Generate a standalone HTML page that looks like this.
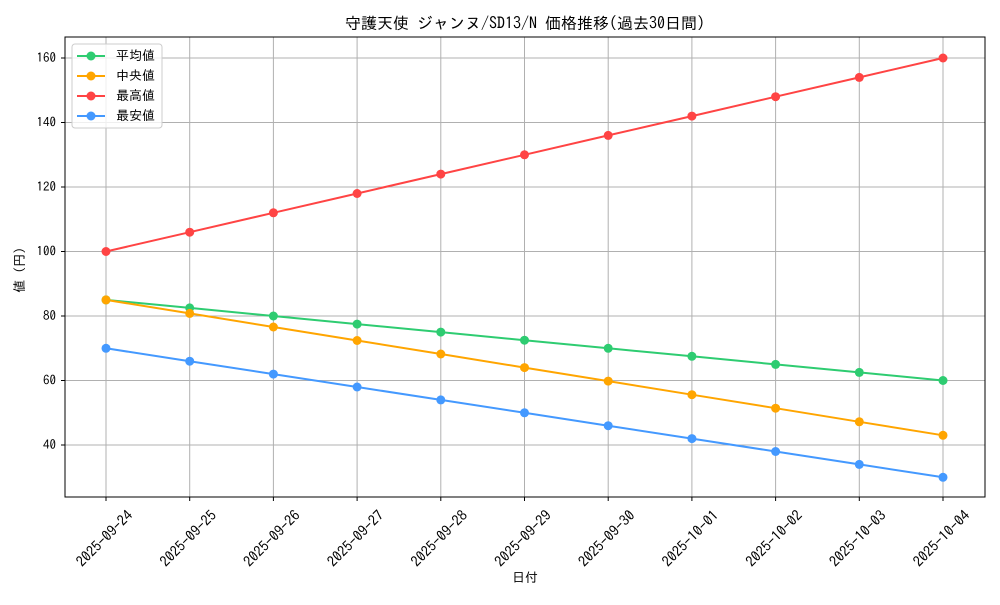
<!DOCTYPE html>
<html><head><meta charset="utf-8"><style>
body{margin:0;background:#fff}
svg text{font-family:"IPAGothic","Liberation Sans","Noto Sans CJK JP",sans-serif;fill:#000}
</style></head><body>
<svg width="1000" height="600" xmlns="http://www.w3.org/2000/svg">
<rect width="1000" height="600" fill="#fff"/>
<g stroke="#b0b0b0" stroke-width="1">
<line x1="106" y1="37" x2="106" y2="497"/><line x1="189.7" y1="37" x2="189.7" y2="497"/><line x1="273.4" y1="37" x2="273.4" y2="497"/><line x1="357.1" y1="37" x2="357.1" y2="497"/><line x1="440.8" y1="37" x2="440.8" y2="497"/><line x1="524.5" y1="37" x2="524.5" y2="497"/><line x1="608.2" y1="37" x2="608.2" y2="497"/><line x1="691.9" y1="37" x2="691.9" y2="497"/><line x1="775.6" y1="37" x2="775.6" y2="497"/><line x1="859.3" y1="37" x2="859.3" y2="497"/><line x1="943" y1="37" x2="943" y2="497"/>
<line x1="65" y1="445" x2="985" y2="445"/><line x1="65" y1="380.5" x2="985" y2="380.5"/><line x1="65" y1="316" x2="985" y2="316"/><line x1="65" y1="251.5" x2="985" y2="251.5"/><line x1="65" y1="187" x2="985" y2="187"/><line x1="65" y1="122.5" x2="985" y2="122.5"/><line x1="65" y1="58" x2="985" y2="58"/>
</g>
<rect x="65" y="37" width="920" height="460" fill="none" stroke="#000" stroke-width="1"/>
<g font-size="13" text-anchor="end">
<text x="56" y="449">40</text><text x="56" y="384.5">60</text><text x="56" y="320">80</text><text x="56" y="255.5">100</text><text x="56" y="191">120</text><text x="56" y="126.5">140</text><text x="56" y="62">160</text>
</g>
<g stroke="#000"><line x1="61" y1="445" x2="65" y2="445"/><line x1="61" y1="380.5" x2="65" y2="380.5"/><line x1="61" y1="316" x2="65" y2="316"/><line x1="61" y1="251.5" x2="65" y2="251.5"/><line x1="61" y1="187" x2="65" y2="187"/><line x1="61" y1="122.5" x2="65" y2="122.5"/><line x1="61" y1="58" x2="65" y2="58"/>
<line x1="106" y1="497" x2="106" y2="501"/><line x1="189.7" y1="497" x2="189.7" y2="501"/><line x1="273.4" y1="497" x2="273.4" y2="501"/><line x1="357.1" y1="497" x2="357.1" y2="501"/><line x1="440.8" y1="497" x2="440.8" y2="501"/><line x1="524.5" y1="497" x2="524.5" y2="501"/><line x1="608.2" y1="497" x2="608.2" y2="501"/><line x1="691.9" y1="497" x2="691.9" y2="501"/><line x1="775.6" y1="497" x2="775.6" y2="501"/><line x1="859.3" y1="497" x2="859.3" y2="501"/><line x1="943" y1="497" x2="943" y2="501"/></g>
<g font-size="14.5" text-anchor="middle">
<text transform="translate(108,542) rotate(-45)">2025-09-24</text>
<text transform="translate(191.7,542) rotate(-45)">2025-09-25</text>
<text transform="translate(275.4,542) rotate(-45)">2025-09-26</text>
<text transform="translate(359.1,542) rotate(-45)">2025-09-27</text>
<text transform="translate(442.8,542) rotate(-45)">2025-09-28</text>
<text transform="translate(526.5,542) rotate(-45)">2025-09-29</text>
<text transform="translate(610.2,542) rotate(-45)">2025-09-30</text>
<text transform="translate(693.9,542) rotate(-45)">2025-10-01</text>
<text transform="translate(777.6,542) rotate(-45)">2025-10-02</text>
<text transform="translate(861.3,542) rotate(-45)">2025-10-03</text>
<text transform="translate(945,542) rotate(-45)">2025-10-04</text>
</g>
<text x="525" y="582" font-size="13" text-anchor="middle">日付</text>
<text transform="translate(24,270) rotate(-90)" font-size="13" text-anchor="middle">値 (円)</text>
<text x="525" y="29" font-size="16" text-anchor="middle">守護天使 ジャンヌ/SD13/N 価格推移(過去30日間)</text>
<g fill="none" stroke-width="2">
<polyline stroke="#2ecc71" points="106,299.9 189.7,307.9 273.4,316 357.1,324.1 440.8,332.1 524.5,340.2 608.2,348.3 691.9,356.3 775.6,364.4 859.3,372.4 943,380.5"/>
<polyline stroke="#ffa500" points="106,299.9 189.7,313.4 273.4,327 357.1,340.5 440.8,354 524.5,367.6 608.2,381.1 691.9,394.7 775.6,408.2 859.3,421.8 943,435.3"/>
<polyline stroke="#ff4444" points="106,251.5 189.7,232.2 273.4,212.8 357.1,193.5 440.8,174.1 524.5,154.8 608.2,135.4 691.9,116.1 775.6,96.7 859.3,77.4 943,58"/>
<polyline stroke="#4499ff" points="106,348.3 189.7,361.2 273.4,374.1 357.1,387 440.8,399.9 524.5,412.8 608.2,425.7 691.9,438.6 775.6,451.5 859.3,464.4 943,477.3"/>
</g>
<g fill="#2ecc71"><circle cx="106" cy="299.9" r="4.5"/><circle cx="189.7" cy="307.9" r="4.5"/><circle cx="273.4" cy="316" r="4.5"/><circle cx="357.1" cy="324.1" r="4.5"/><circle cx="440.8" cy="332.1" r="4.5"/><circle cx="524.5" cy="340.2" r="4.5"/><circle cx="608.2" cy="348.3" r="4.5"/><circle cx="691.9" cy="356.3" r="4.5"/><circle cx="775.6" cy="364.4" r="4.5"/><circle cx="859.3" cy="372.4" r="4.5"/><circle cx="943" cy="380.5" r="4.5"/></g>
<g fill="#ffa500"><circle cx="106" cy="299.9" r="4.5"/><circle cx="189.7" cy="313.4" r="4.5"/><circle cx="273.4" cy="327" r="4.5"/><circle cx="357.1" cy="340.5" r="4.5"/><circle cx="440.8" cy="354" r="4.5"/><circle cx="524.5" cy="367.6" r="4.5"/><circle cx="608.2" cy="381.1" r="4.5"/><circle cx="691.9" cy="394.7" r="4.5"/><circle cx="775.6" cy="408.2" r="4.5"/><circle cx="859.3" cy="421.8" r="4.5"/><circle cx="943" cy="435.3" r="4.5"/></g>
<g fill="#ff4444"><circle cx="106" cy="251.5" r="4.5"/><circle cx="189.7" cy="232.2" r="4.5"/><circle cx="273.4" cy="212.8" r="4.5"/><circle cx="357.1" cy="193.5" r="4.5"/><circle cx="440.8" cy="174.1" r="4.5"/><circle cx="524.5" cy="154.8" r="4.5"/><circle cx="608.2" cy="135.4" r="4.5"/><circle cx="691.9" cy="116.1" r="4.5"/><circle cx="775.6" cy="96.7" r="4.5"/><circle cx="859.3" cy="77.4" r="4.5"/><circle cx="943" cy="58" r="4.5"/></g>
<g fill="#4499ff"><circle cx="106" cy="348.3" r="4.5"/><circle cx="189.7" cy="361.2" r="4.5"/><circle cx="273.4" cy="374.1" r="4.5"/><circle cx="357.1" cy="387" r="4.5"/><circle cx="440.8" cy="399.9" r="4.5"/><circle cx="524.5" cy="412.8" r="4.5"/><circle cx="608.2" cy="425.7" r="4.5"/><circle cx="691.9" cy="438.6" r="4.5"/><circle cx="775.6" cy="451.5" r="4.5"/><circle cx="859.3" cy="464.4" r="4.5"/><circle cx="943" cy="477.3" r="4.5"/></g>
<rect x="72" y="44" width="90" height="84" rx="3" fill="#fff" fill-opacity="0.8" stroke="#ccc"/>
<g stroke-width="2">
<line x1="77" y1="56" x2="105" y2="56" stroke="#2ecc71"/><circle cx="91" cy="56" r="4.5" fill="#2ecc71"/>
<line x1="77" y1="76" x2="105" y2="76" stroke="#ffa500"/><circle cx="91" cy="76" r="4.5" fill="#ffa500"/>
<line x1="77" y1="96" x2="105" y2="96" stroke="#ff4444"/><circle cx="91" cy="96" r="4.5" fill="#ff4444"/>
<line x1="77" y1="116" x2="105" y2="116" stroke="#4499ff"/><circle cx="91" cy="116" r="4.5" fill="#4499ff"/>
</g>
<g font-size="13"><text x="116" y="60">平均値</text><text x="116" y="80">中央値</text><text x="116" y="100">最高値</text><text x="116" y="120">最安値</text></g>
</svg>
</body></html>
